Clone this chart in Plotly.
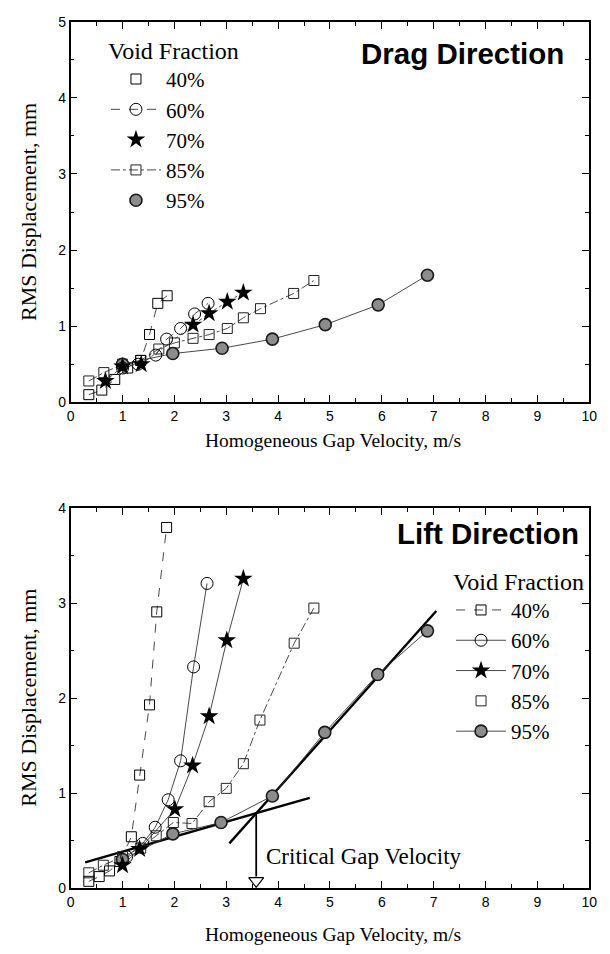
import plotly.graph_objects as go

# ---------------- Drag direction data ----------------
drag_40_x = [0.35, 0.6, 0.85, 1.1, 1.35, 1.52, 1.68, 1.86]
drag_40_y = [0.1, 0.16, 0.3, 0.45, 0.55, 0.89, 1.3, 1.4]
drag_60_x = [1.0, 1.3, 1.64, 1.85, 2.12, 2.39, 2.65]
drag_60_y = [0.45, 0.5, 0.62, 0.83, 0.97, 1.16, 1.3]
drag_70_x = [0.67, 1.0, 1.36, 2.36, 2.67, 3.02, 3.33]
drag_70_y = [0.28, 0.47, 0.5, 1.02, 1.17, 1.32, 1.44]
drag_85_x = [0.35, 0.64, 1.0, 1.35, 1.7, 2.0, 2.36, 2.67, 3.02, 3.33, 3.66, 4.3, 4.69]
drag_85_y = [0.28, 0.39, 0.5, 0.55, 0.7, 0.78, 0.84, 0.89, 0.97, 1.11, 1.23, 1.43, 1.6]
drag_95_x = [1.0, 1.97, 2.92, 3.89, 4.91, 5.93, 6.88]
drag_95_y = [0.5, 0.64, 0.71, 0.83, 1.02, 1.28, 1.67]

# ---------------- Lift direction data ----------------
lift_40_x = [0.35, 0.55, 0.75, 0.95, 1.17, 1.33, 1.52, 1.66, 1.85]
lift_40_y = [0.07, 0.12, 0.18, 0.28, 0.54, 1.19, 1.93, 2.91, 3.8]
lift_60_x = [1.08, 1.39, 1.63, 1.88, 2.12, 2.37, 2.63]
lift_60_y = [0.33, 0.47, 0.64, 0.93, 1.34, 2.33, 3.21]
lift_70_x = [1.0, 1.33, 2.01, 2.35, 2.67, 3.01, 3.33]
lift_70_y = [0.24, 0.41, 0.83, 1.29, 1.81, 2.61, 3.26]
lift_85_x = [0.35, 0.63, 1.0, 1.35, 1.65, 1.98, 2.34, 2.67, 3.0, 3.33, 3.65, 4.31, 4.69]
lift_85_y = [0.16, 0.24, 0.33, 0.42, 0.55, 0.69, 0.68, 0.91, 1.05, 1.31, 1.77, 2.58, 2.95]
lift_95_x = [1.0, 1.97, 2.9, 3.89, 4.9, 5.92, 6.88]
lift_95_y = [0.3, 0.57, 0.69, 0.97, 1.64, 2.25, 2.71]

# fitted lines (lift direction)
fit_low_x = [0.28, 4.61]
fit_low_y = [0.27, 0.95]
fit_high_x = [3.06, 7.05]
fit_high_y = [0.47, 2.92]

labels = ["40%", "60%", "70%", "85%", "95%"]

SERIF = "Liberation Serif"
SANS = "Liberation Sans"
LC = "#333333"

markers = {
    "40%": dict(symbol="square-open", size=10, color="black", line=dict(width=1, color="black")),
    "60%": dict(symbol="circle-open", size=12, color="black", line=dict(width=1, color="black")),
    "70%": dict(symbol="star", size=14, color="black", line=dict(width=0)),
    "85%": dict(symbol="square-open", size=10, color="#222", line=dict(width=1, color="#222")),
    "95%": dict(symbol="circle", size=12, color="#8c8c8c", line=dict(width=1.6, color="#1a1a1a")),
}

drag_dash = {"40%": "dash", "60%": "dash", "70%": "dot", "85%": "dashdot", "95%": "solid"}
lift_dash = {"40%": "dash", "60%": "solid", "70%": "solid", "85%": "dashdot", "95%": "solid"}

drag_legend_line = {"40%": None, "60%": "dash", "70%": None, "85%": "dashdot", "95%": None}
lift_legend_line = {"40%": "dash", "60%": "solid", "70%": "solid", "85%": None, "95%": "solid"}

drag_data = {"40%": (drag_40_x, drag_40_y), "60%": (drag_60_x, drag_60_y), "70%": (drag_70_x, drag_70_y),
             "85%": (drag_85_x, drag_85_y), "95%": (drag_95_x, drag_95_y)}
lift_data = {"40%": (lift_40_x, lift_40_y), "60%": (lift_60_x, lift_60_y), "70%": (lift_70_x, lift_70_y),
             "85%": (lift_85_x, lift_85_y), "95%": (lift_95_x, lift_95_y)}

fig = go.Figure()

order = ["85%", "40%", "95%", "60%", "70%"]

for lab in order:
    x, y = drag_data[lab]
    fig.add_trace(go.Scatter(x=x, y=y, mode="lines+markers", xaxis="x", yaxis="y",
                             line=dict(color=LC, width=0.9, dash=drag_dash[lab]),
                             marker=markers[lab], showlegend=False, cliponaxis=False))

# fit lines in lift plot
fig.add_trace(go.Scatter(x=fit_low_x, y=fit_low_y, mode="lines", xaxis="x2", yaxis="y2",
                         line=dict(color="black", width=2.4), showlegend=False))
fig.add_trace(go.Scatter(x=fit_high_x, y=fit_high_y, mode="lines", xaxis="x2", yaxis="y2",
                         line=dict(color="black", width=2.4), showlegend=False))

for lab in order:
    x, y = lift_data[lab]
    fig.add_trace(go.Scatter(x=x, y=y, mode="lines+markers", xaxis="x2", yaxis="y2",
                             line=dict(color=LC, width=0.9, dash=lift_dash[lab]),
                             marker=markers[lab], showlegend=False, cliponaxis=False))

# critical velocity: intersection of fitted lines
s1 = (fit_low_y[1] - fit_low_y[0]) / (fit_low_x[1] - fit_low_x[0])
s2 = (fit_high_y[1] - fit_high_y[0]) / (fit_high_x[1] - fit_high_x[0])
xc = (fit_high_y[0] - fit_low_y[0] + s1 * fit_low_x[0] - s2 * fit_high_x[0]) / (s1 - s2)
yc = fit_low_y[0] + s1 * (xc - fit_low_x[0])
fig.add_trace(go.Scatter(x=[xc, xc], y=[yc, 0.12], mode="lines", xaxis="x2", yaxis="y2",
                         line=dict(color="black", width=1.8), showlegend=False))
fig.add_trace(go.Scatter(x=[xc], y=[0.075], mode="markers", xaxis="x2", yaxis="y2",
                         marker=dict(symbol="triangle-down", size=13, color="white",
                                     line=dict(color="black", width=1.2)),
                         showlegend=False, cliponaxis=False))

# legend-only traces
for lab in labels:
    d = drag_legend_line[lab]
    fig.add_trace(go.Scatter(x=[None], y=[None], xaxis="x", yaxis="y", name=lab,
                             mode="lines+markers" if d else "markers",
                             line=dict(color=LC, width=0.9, dash=d or "solid"),
                             marker=markers[lab], legend="legend"))
for lab in labels:
    d = lift_legend_line[lab]
    fig.add_trace(go.Scatter(x=[None], y=[None], xaxis="x2", yaxis="y2", name=lab,
                             mode="lines+markers" if d else "markers",
                             line=dict(color=LC, width=0.9, dash=d or "solid"),
                             marker=markers[lab], legend="legend2"))

W, H = 610, 954
xdom = [68 / W, 597 / W]
ydom_top = [(H - 401) / H, (H - 14) / H]
ydom_bot = [(H - 895) / H, (H - 509) / H]

axis_common = dict(showline=True, linecolor="black", linewidth=1.6, mirror="allticks",
                   ticks="inside", ticklen=7, tickwidth=1.3, tickcolor="black",
                   showgrid=False, zeroline=False,
                   tickfont=dict(family=SANS, size=14, color="black"),
                   minor=dict(ticks="inside", ticklen=4, tickwidth=1, tickcolor="black", dtick=0.5))

legend_font = dict(family=SERIF, size=21, color="black")
legend_title_font = dict(family=SERIF, size=24, color="black")

fig.update_layout(
    width=W, height=H, margin=dict(l=0, r=0, t=0, b=0),
    paper_bgcolor="white", plot_bgcolor="white",
    xaxis=dict(domain=xdom, range=[0, 10], dtick=1, anchor="y", **axis_common),
    yaxis=dict(domain=ydom_top, range=[0, 5], dtick=1, anchor="x", **axis_common),
    xaxis2=dict(domain=xdom, range=[0, 10], dtick=1, anchor="y2", **axis_common),
    yaxis2=dict(domain=ydom_bot, range=[0, 4], dtick=1, anchor="x2", **axis_common),
    legend=dict(x=104 / W, y=(H - 20) / H, xanchor="left", yanchor="top",
                bgcolor="rgba(0,0,0,0)", tracegroupgap=0, itemwidth=50,
                font=legend_font,
                title=dict(text="Void Fraction", font=legend_title_font)),
    legend2=dict(x=456 / W, y=(H - 560) / H, xanchor="left", yanchor="top",
                 bgcolor="rgba(0,0,0,0)", tracegroupgap=0, itemwidth=50,
                 font=legend_font,
                 title=dict(text="Void Fraction", font=legend_title_font)),
    showlegend=True,
)

ann = []
ann.append(dict(text="<b>Drag Direction</b>", x=9.4, y=4.5, xref="x", yref="y", xanchor="right",
                yanchor="middle", xshift=8, yshift=6, showarrow=False,
                font=dict(family=SANS, size=29.5, color="black")))
ann.append(dict(text="<b>Lift Direction</b>", x=9.68, y=3.74, xref="x2", yref="y2", xanchor="right",
                yanchor="middle", xshift=8, showarrow=False,
                font=dict(family=SANS, size=29.5, color="black")))
ann.append(dict(text="Critical Gap Velocity", x=3.72, y=0.33, xref="x2", yref="y2", xanchor="left",
                yanchor="middle", showarrow=False, font=dict(family=SERIF, size=23, color="black")))
for yc_ in [(H - 208) / H, (H - 702) / H]:
    ann.append(dict(text="RMS Displacement, mm", x=25 / W, y=yc_, xref="paper", yref="paper",
                    xanchor="center", yanchor="middle", textangle=-90, showarrow=False,
                    font=dict(family=SERIF, size=22, color="black")))
for yc_ in [(H - 440) / H, (H - 942) / H]:
    ann.append(dict(text="Homogeneous Gap Velocity, m/s", x=336 / W, y=yc_, xref="paper", yref="paper",
                    xanchor="center", yanchor="middle", showarrow=False,
                    font=dict(family=SERIF, size=19.5, color="black")))
fig.update_layout(annotations=ann)

fig.write_html("out.html")
